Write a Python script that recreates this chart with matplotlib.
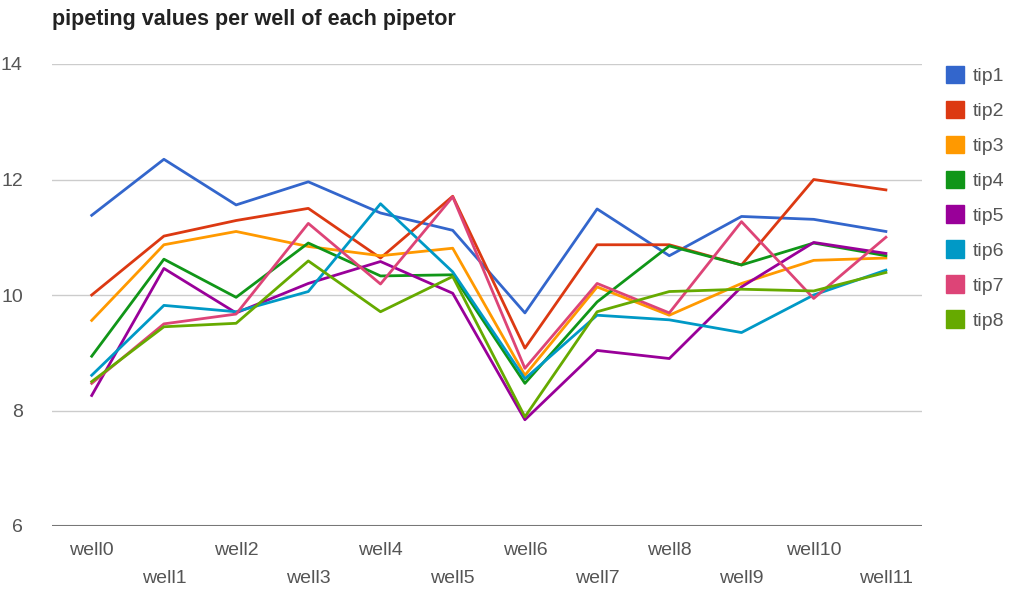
import matplotlib
matplotlib.use("Agg")
from matplotlib import pyplot as plt
from matplotlib.patches import Patch

plt.rcParams["font.family"] = ["Liberation Sans", "DejaVu Sans"]

wells = ["well%d" % i for i in range(12)]
tips = ["tip1", "tip2", "tip3", "tip4", "tip5", "tip6", "tip7", "tip8"]
colors = ["#3366cc", "#dc3912", "#ff9900", "#109618",
          "#990099", "#0099c6", "#dd4477", "#66aa00"]

tip1 = [11.38, 12.35, 11.56, 11.96, 11.42, 11.12, 9.69, 11.49, 10.68, 11.36, 11.31, 11.10]
tip2 = [10.00, 11.02, 11.29, 11.50, 10.64, 11.71, 9.08, 10.87, 10.87, 10.52, 12.00, 11.82]
tip3 = [9.56, 10.87, 11.10, 10.84, 10.68, 10.81, 8.61, 10.14, 9.65, 10.20, 10.60, 10.64]
tip4 = [8.94, 10.62, 9.96, 10.90, 10.33, 10.35, 8.47, 9.88, 10.85, 10.52, 10.90, 10.68]
tip5 = [8.26, 10.46, 9.69, 10.20, 10.58, 10.03, 7.84, 9.04, 8.90, 10.14, 10.91, 10.72]
tip6 = [8.61, 9.82, 9.71, 10.06, 11.58, 10.40, 8.55, 9.65, 9.57, 9.35, 10.00, 10.43]
tip7 = [8.47, 9.50, 9.67, 11.24, 10.19, 11.70, 8.73, 10.20, 9.69, 11.27, 9.94, 11.00]
tip8 = [8.50, 9.45, 9.51, 10.59, 9.71, 10.32, 7.89, 9.71, 10.06, 10.10, 10.07, 10.39]
series = [tip1, tip2, tip3, tip4, tip5, tip6, tip7, tip8]

yticks = [6, 8, 10, 12, 14]


def main():
    fig = plt.figure(figsize=(10.13, 5.91), dpi=100)
    ax = fig.add_axes([52 / 1013, 1 - 526 / 591, 870 / 1013, 462 / 591])

    x = list(range(len(wells)))
    for values, name, c in zip(series, tips, colors):
        ax.plot(x, values, color=c, linewidth=2, label=name, zorder=3)

    ax.set_xlim(-0.55, 11.5)
    ax.set_ylim(6, 14)
    ax.set_yticks(yticks)
    ax.set_yticklabels([str(t) for t in yticks], fontsize=14, color="#555555")
    for t in yticks[1:]:
        ax.axhline(t, color="#cccccc", linewidth=1, zorder=1)
    ax.axhline(6, color="#777777", linewidth=1.5, zorder=2)

    ax.set_xticks(x)
    ax.set_xticklabels([])
    for i, w in enumerate(wells):
        ax.text(i, -0.035 if i % 2 == 0 else -0.095, w,
                transform=ax.get_xaxis_transform(), ha="center", va="top",
                fontsize=14, color="#555555")

    ax.tick_params(axis="both", length=0)
    ax.tick_params(axis="y", pad=21)
    for side in ax.spines.values():
        side.set_visible(False)

    fig.text(52 / 1013, 1 - 19 / 591, "pipeting values per well of each pipetor",
             fontsize=15.5, fontweight="bold", color="#222222", va="center")

    handles = [Patch(facecolor=c, edgecolor=c) for c in colors]
    fig.legend(handles, tips, loc="upper left",
               bbox_to_anchor=(938 / 1013, 1 - 58 / 591),
               frameon=False, fontsize=14, labelcolor="#555555",
               handlelength=0.95, handleheight=1.0, handletextpad=0.45,
               labelspacing=0.8, borderaxespad=0)

    fig.savefig("out.png", dpi=100)


if __name__ == "__main__":
    main()
